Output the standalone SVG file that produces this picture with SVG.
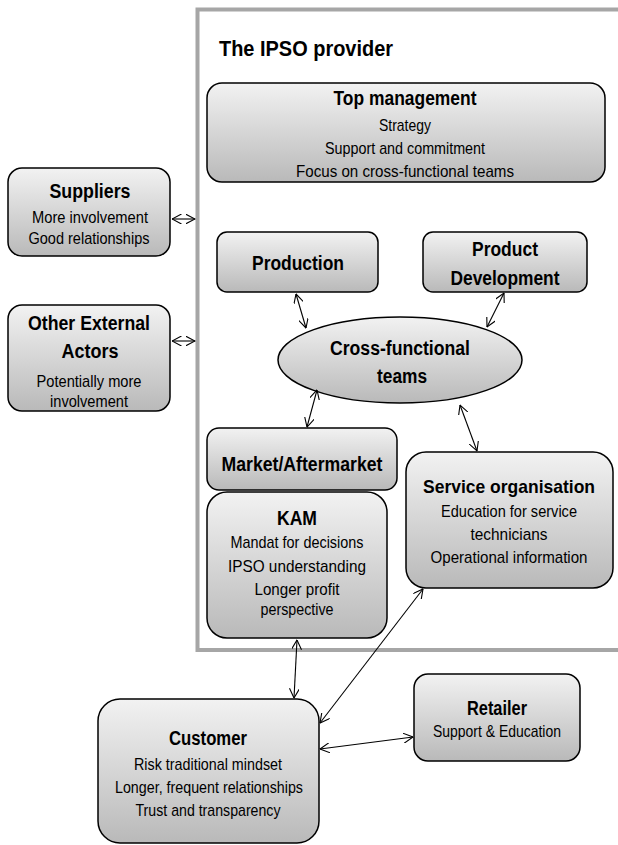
<svg xmlns="http://www.w3.org/2000/svg" width="618" height="845" viewBox="0 0 618 845">
<defs>
<linearGradient id="g" x1="0" y1="0" x2="0" y2="1">
<stop offset="0" stop-color="#f2f2f2"/>
<stop offset="1" stop-color="#b9b9b9"/>
</linearGradient>
<marker id="ah" viewBox="0 0 10 10" refX="9.5" refY="5" markerWidth="10" markerHeight="10" markerUnits="userSpaceOnUse" orient="auto-start-reverse">
<path d="M0,0 L9.5,5 L0,10" fill="none" stroke="#000" stroke-width="1.1"/>
</marker>
</defs>
<style>
.box{fill:url(#g);stroke:#000;stroke-width:1.5}
.t{font-family:"Liberation Sans",Arial,sans-serif;font-weight:bold;font-size:20px;fill:#000;text-anchor:middle}
.s{font-family:"Liberation Sans",Arial,sans-serif;font-size:17px;fill:#000;text-anchor:middle}
.c{fill:none;stroke:#000;stroke-width:1.1;marker-start:url(#ah);marker-end:url(#ah)}
</style>
<rect width="618" height="845" fill="#fff"/>
<g id="frame">
<path d="M620 9.5 H197.5 V650 H620" fill="none" stroke="#a6a6a6" stroke-width="4"/>
<text x="219" y="56" font-family="'Liberation Sans',Arial,sans-serif" font-weight="bold" font-size="22" textLength="174" lengthAdjust="spacingAndGlyphs">The IPSO provider</text>
</g>
<g id="top-management">
<rect class="box" x="207" y="83" width="398" height="99" rx="15"/>
<text class="t" x="405" y="105" textLength="143" lengthAdjust="spacingAndGlyphs">Top management</text>
<text class="s" x="405" y="131" textLength="52" lengthAdjust="spacingAndGlyphs">Strategy</text>
<text class="s" x="405" y="154" textLength="160" lengthAdjust="spacingAndGlyphs">Support and commitment</text>
<text class="s" x="405" y="177" textLength="218" lengthAdjust="spacingAndGlyphs">Focus on cross-functional teams</text>
</g>
<g id="suppliers">
<rect class="box" x="8" y="168" width="162" height="88" rx="14"/>
<text class="t" x="90" y="198" textLength="81" lengthAdjust="spacingAndGlyphs">Suppliers</text>
<text class="s" x="90" y="223" textLength="116" lengthAdjust="spacingAndGlyphs">More involvement</text>
<text class="s" x="89" y="244" textLength="121" lengthAdjust="spacingAndGlyphs">Good relationships</text>
</g>
<g id="other-external-actors">
<rect class="box" x="8" y="305" width="162" height="106" rx="14"/>
<text class="t" x="89" y="330" textLength="122" lengthAdjust="spacingAndGlyphs">Other External</text>
<text class="t" x="90" y="358" textLength="57" lengthAdjust="spacingAndGlyphs">Actors</text>
<text class="s" x="89" y="387" textLength="105" lengthAdjust="spacingAndGlyphs">Potentially more</text>
<text class="s" x="89" y="407" textLength="78" lengthAdjust="spacingAndGlyphs">involvement</text>
</g>
<g id="production">
<rect class="box" x="217" y="232" width="161" height="60" rx="10"/>
<text class="t" x="298" y="270" textLength="92" lengthAdjust="spacingAndGlyphs">Production</text>
</g>
<g id="product-development">
<rect class="box" x="423" y="232" width="164" height="60" rx="10"/>
<text class="t" x="505" y="256" textLength="66" lengthAdjust="spacingAndGlyphs">Product</text>
<text class="t" x="505" y="285" textLength="109" lengthAdjust="spacingAndGlyphs">Development</text>
</g>
<g id="cross-functional-teams">
<ellipse class="box" cx="400" cy="360" rx="122" ry="43"/>
<text class="t" x="400" y="355" textLength="140" lengthAdjust="spacingAndGlyphs">Cross-functional</text>
<text class="t" x="402" y="383" textLength="50" lengthAdjust="spacingAndGlyphs">teams</text>
</g>
<g id="market-aftermarket">
<rect class="box" x="207" y="428" width="190" height="62" rx="12"/>
<text class="t" x="302" y="471" textLength="161" lengthAdjust="spacingAndGlyphs">Market/Aftermarket</text>
</g>
<g id="kam">
<rect class="box" x="207" y="492" width="180" height="146" rx="20"/>
<text class="t" x="297" y="525" textLength="40" lengthAdjust="spacingAndGlyphs">KAM</text>
<text class="s" x="297" y="548" textLength="133" lengthAdjust="spacingAndGlyphs">Mandat for decisions</text>
<text class="s" x="297" y="572" textLength="138" lengthAdjust="spacingAndGlyphs">IPSO understanding</text>
<text class="s" x="297" y="595" textLength="85" lengthAdjust="spacingAndGlyphs">Longer profit</text>
<text class="s" x="297" y="615" textLength="73" lengthAdjust="spacingAndGlyphs">perspective</text>
</g>
<g id="service-organisation">
<rect class="box" x="406" y="452" width="207" height="136" rx="20"/>
<text class="t" x="509" y="493" font-size="19" style="font-size:19px" textLength="172" lengthAdjust="spacingAndGlyphs">Service organisation</text>
<text class="s" x="509" y="517" textLength="136" lengthAdjust="spacingAndGlyphs">Education for service</text>
<text class="s" x="509" y="540" textLength="77" lengthAdjust="spacingAndGlyphs">technicians</text>
<text class="s" x="509" y="563" textLength="157" lengthAdjust="spacingAndGlyphs">Operational information</text>
</g>
<g id="customer">
<rect class="box" x="98" y="699" width="221" height="144" rx="22"/>
<text class="t" x="208" y="745" textLength="78" lengthAdjust="spacingAndGlyphs">Customer</text>
<text class="s" x="208" y="770" textLength="148" lengthAdjust="spacingAndGlyphs">Risk traditional mindset</text>
<text class="s" x="209" y="793" textLength="188" lengthAdjust="spacingAndGlyphs">Longer, frequent relationships</text>
<text class="s" x="208" y="816" textLength="145" lengthAdjust="spacingAndGlyphs">Trust and transparency</text>
</g>
<g id="retailer">
<rect class="box" x="414" y="674" width="166" height="87" rx="14"/>
<text class="t" x="497" y="715" textLength="60" lengthAdjust="spacingAndGlyphs">Retailer</text>
<text class="s" x="497" y="737" textLength="128" lengthAdjust="spacingAndGlyphs">Support &amp; Education</text>
</g>
<g id="connectors">
<line class="c" x1="172" y1="219" x2="195" y2="219"/>
<line class="c" x1="172" y1="341" x2="195" y2="341"/>
<line class="c" x1="296" y1="294" x2="306" y2="328"/>
<line class="c" x1="504" y1="293" x2="487" y2="327"/>
<line class="c" x1="317" y1="390" x2="307" y2="427"/>
<line class="c" x1="460" y1="405" x2="477" y2="451"/>
<line class="c" x1="297" y1="640" x2="294" y2="698"/>
<line class="c" x1="423" y1="589" x2="320" y2="723"/>
<line class="c" x1="320" y1="749" x2="413" y2="737"/>
</g>
</svg>
